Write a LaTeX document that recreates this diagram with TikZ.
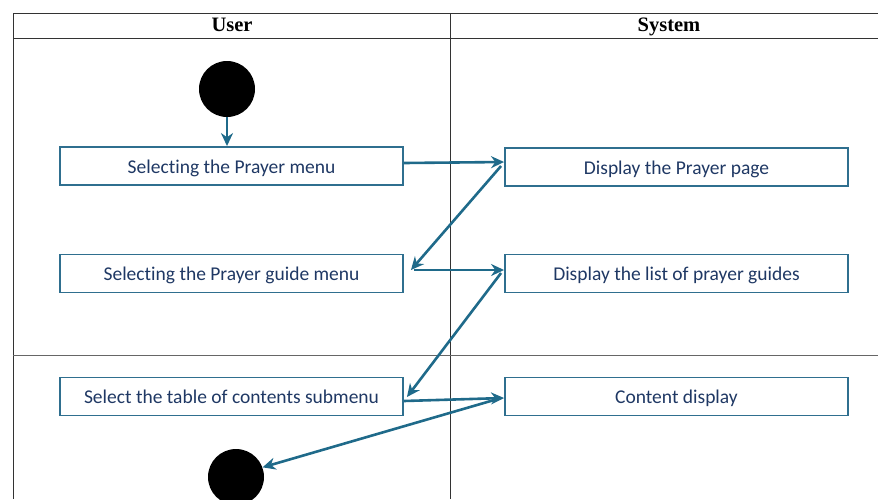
\documentclass[tikz,border=0pt]{standalone}
\usepackage{fontspec}
\setmainfont{Carlito}[Ligatures={NoCommon,NoContextual}, RawFeature={-liga;-calt}]
\newfontfamily\headfont{Liberation Serif}
\usetikzlibrary{arrows.meta}
\definecolor{boxline}{HTML}{2F6F8F}
\definecolor{flow}{HTML}{1F6A8A}
\definecolor{txt}{HTML}{1F3864}
\tikzset{
  x=1pt, y=-1pt,
  grid/.style={draw=black!80, line width=0.9pt},
  act/.style={draw=boxline, line width=1.9pt, minimum width=343pt, minimum height=38pt,
    inner sep=0pt, text height=14pt, text depth=0pt,
    font=\fontsize{19.5}{22}\selectfont, text=txt},
  dot/.style={circle, fill=black, minimum size=56pt, inner sep=0pt},
  flowline/.style={draw=flow, line width=2.6pt, -{Stealth[length=13pt,width=12pt]}},
  head/.style={font=\headfont\bfseries\fontsize{20.5}{24}\selectfont, anchor=base}
}
\begin{document}
\begin{tikzpicture}
\useasboundingbox (0,0) rectangle (878,499);
% swimlane frame
\draw[grid] (878,13) -- (13,13) -- (13,499);
\draw[grid] (13,38) -- (878,38);
\draw[grid] (450,13) -- (450,499);
\draw[draw=black!60, line width=0.9pt] (13,355) -- (878,355);
\node[head] (hU) at (232,31) {User};
\node[head] (hS) at (669,31) {System};
% states
\node[dot] (start) at (227,89) {};
\node[dot] (stop) at (236,477) {};
% activities
\node[act] (a1) at (231.5,166) {Selecting the Prayer menu};
\node[act] (b1) at (676.5,167) {Display the Prayer page};
\node[act] (a2) at (231.5,273.5) {Selecting the Prayer guide menu};
\node[act] (b2) at (676.5,273.5) {Display the list of prayer guides};
\node[act] (a3) at (231.5,396.5) {Select the table of contents submenu};
\node[act] (b3) at (676.5,396.5) {Content display};
% control flow
\draw[flowline] (start.south) -- (a1.north -| start);
\draw[flowline] (a1.east |- 0,163) -- (b1.west |- 0,162);
\draw[flowline] ([xshift=-3pt]b1.west |- 0,166) -- ([xshift=7pt]a2.east |- 0,270);
\draw[flowline] ([xshift=10pt]a2.east |- 0,270) -- (b2.west |- 0,270);
\draw[flowline] ([xshift=-3pt]b2.west |- 0,273) -- ([xshift=3pt]a3.east |- 0,397);
\draw[flowline] (a3.east |- 0,401) -- (b3.west |- 0,398);
\draw[flowline] ([xshift=-3pt]b3.west |- 0,398) -- (stop.20);
\end{tikzpicture}
\end{document}
